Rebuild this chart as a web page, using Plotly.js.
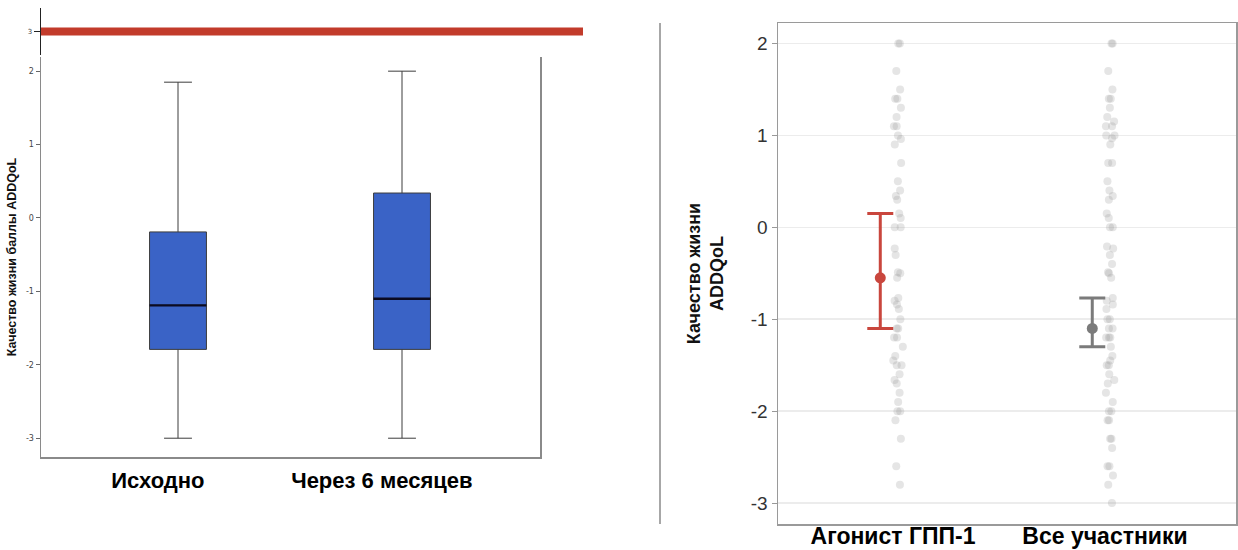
<!DOCTYPE html>
<html><head><meta charset="utf-8">
<script src="https://cdn.plot.ly/plotly-3.0.1.min.js"></script>
<style>html,body{margin:0;padding:0;background:#fff}#chart{width:1238px;height:550px}</style>
</head><body><div id="chart"></div>
<script>
// ---------- Left panel: ADDQoL box plot ----------
const boxCategories = ['Исходно', 'Через 6 месяцев'];
const boxPos = [0, 1];
const boxLower  = [-3.0, -3.0];
const boxQ1     = [-1.79, -1.79];
const boxMedian = [-1.19, -1.10];
const boxQ3     = [-0.19, 0.34];
const boxUpper  = [1.85, 2.0];
const leftTicks = [-3, -2, -1, 0, 1, 2];
const refLevel = 3;

// ---------- Right panel: mean with CI and individual scores ----------
const groupLabels = ['Агонист ГПП-1', 'Все участники'];
const groupPos = [1, 2];
const groupMean  = [-0.55, -1.10];
const groupUpper = [0.15, -0.77];
const groupLower = [-1.10, -1.30];
const dotsGLP1 = [2.0, 2.0, 1.7, 1.5, 1.4, 1.4, 1.3, 1.2, 1.1, 1.1, 1.0, 0.96, 0.9, 0.7, 0.5, 0.4, 0.34, 0.3,
  0.15, 0.1, 0.0, 0.0, -0.23, -0.3, -0.49, -0.5, -0.55, -0.77, -0.8, -0.84, -0.89, -1.0, -1.1, -1.1,
  -1.2, -1.2, -1.3, -1.4, -1.45, -1.5, -1.5, -1.6, -1.66, -1.7, -1.8, -1.9, -2.0, -2.0, -2.1, -2.3, -2.6, -2.8];
const dotsAll = [2.0, 2.0, 1.7, 1.5, 1.4, 1.4, 1.3, 1.2, 1.15, 1.1, 1.1, 1.0, 1.0, 0.97, 0.9, 0.7, 0.7, 0.5, 0.4,
  0.34, 0.3, 0.15, 0.1, 0.0, 0.0, -0.21, -0.23, -0.3, -0.4, -0.49, -0.5, -0.55, -0.77, -0.8, -0.84, -0.89,
  -1.0, -1.0, -1.1, -1.1, -1.2, -1.2, -1.2, -1.3, -1.4, -1.45, -1.5, -1.5, -1.6, -1.66, -1.7, -1.8, -1.9,
  -2.0, -2.0, -2.1, -2.1, -2.3, -2.3, -2.4, -2.6, -2.6, -2.7, -2.8, -3.0];
const groupDots = [dotsGLP1, dotsAll];
const rightTicks = [-3, -2, -1, 0, 1, 2];
const groupColors = ['#C9463D', '#7B7B7B'];

// style constants
const dotOffset = 0.025, errOffset = -0.06, leftLabelOffset = -0.09;
const boxW = 0.254;
const tickText = v => String(v); // plain hyphen minus, as in the source

const traces = [];
traces.push({
  type: 'box', x: boxPos, q1: boxQ1, median: boxMedian, q3: boxQ3,
  lowerfence: boxLower, upperfence: boxUpper,
  fillcolor: '#3A63C6', line: {color: '#3c3c3c', width: 1},
  width: boxW, whiskerwidth: 0.49, boxpoints: false,
  xaxis: 'x', yaxis: 'y', hoverinfo: 'skip', showlegend: false
});
traces.push({
  type: 'box', x: boxPos, q1: boxMedian, median: boxMedian, q3: boxMedian,
  lowerfence: boxMedian, upperfence: boxMedian,
  fillcolor: 'rgba(0,0,0,0)', line: {color: '#0b0b22', width: 2.4},
  width: boxW, whiskerwidth: 0, boxpoints: false,
  xaxis: 'x', yaxis: 'y', hoverinfo: 'skip', showlegend: false
});
traces.push({type: 'scatter', x: [], y: [], xaxis: 'x3', yaxis: 'y3', showlegend: false});

groupDots.forEach((vals, i) => {
  traces.push({
    type: 'box', y: vals, x0: groupPos[i] + dotOffset, width: 0.05,
    boxpoints: 'all', jitter: 1, pointpos: 0,
    marker: {color: 'rgba(150,150,150,0.25)', size: 8},
    line: {width: 0, color: 'rgba(0,0,0,0)'}, fillcolor: 'rgba(0,0,0,0)',
    xaxis: 'x2', yaxis: 'y2', hoverinfo: 'y', showlegend: false
  });
});
groupPos.forEach((p, i) => {
  traces.push({
    type: 'scatter', mode: 'markers', x: [p + errOffset], y: [groupMean[i]],
    marker: {color: groupColors[i], size: 11},
    error_y: {type: 'data', symmetric: false, array: [groupUpper[i] - groupMean[i]],
      arrayminus: [groupMean[i] - groupLower[i]], color: groupColors[i], thickness: 3, width: 13},
    xaxis: 'x2', yaxis: 'y2', showlegend: false
  });
});

const W = 1238, H = 550;
const fx = px => px / W, fy = py => 1 - py / H;
const boldFont = 'Liberation Sans, Arial, sans-serif';

const layout = {
  width: W, height: H, autosize: false,
  margin: {l: 0, r: 0, t: 0, b: 0},
  paper_bgcolor: '#fff', plot_bgcolor: 'rgba(0,0,0,0)',
  showlegend: false, boxmode: 'overlay',
  xaxis: {
    domain: [fx(41), fx(540)], anchor: 'y',
    range: [-0.6116, 1.616], showline: true, linecolor: '#8a8a8a', linewidth: 1.5,
    tickvals: boxPos.map(p => p + leftLabelOffset), ticktext: boxCategories,
    ticks: '', showgrid: false, zeroline: false, ticklabelstandoff: 3,
    tickfont: {family: boldFont, size: 22, color: '#000', weight: 'bold'}
  },
  yaxis: {
    domain: [fy(457), fy(57)], anchor: 'x', range: [-3.256, 2.193],
    tickvals: leftTicks, ticktext: leftTicks.map(tickText),
    ticks: 'outside', ticklen: 4, tickcolor: '#666',
    tickfont: {family: 'DejaVu Sans, sans-serif', size: 8, color: '#444'},
    showline: true, mirror: true, linecolor: '#8a8a8a', linewidth: 1.5,
    showgrid: false, zeroline: false,
    title: {text: 'Качество жизни баллы ADDQoL', standoff: 6,
      font: {family: boldFont, size: 12.5, color: '#111', weight: 'bold'}}
  },
  xaxis3: {
    domain: [fx(41), fx(583)], anchor: 'y3', range: [0, 1],
    showline: false, showticklabels: false, ticks: '', showgrid: false, zeroline: false
  },
  yaxis3: {
    domain: [fy(55), fy(8)], anchor: 'x3', range: [2.5, 3.5],
    tickvals: [refLevel], ticks: 'outside', ticklen: 6, tickcolor: '#222',
    tickfont: {family: 'DejaVu Sans, sans-serif', size: 7, color: '#444'},
    showline: true, linecolor: '#222', linewidth: 1.5, showgrid: false, zeroline: false
  },
  xaxis2: {
    domain: [fx(778), fx(1236)], anchor: 'y2', range: [0.4575, 2.618],
    tickvals: groupPos, ticktext: groupLabels, ticks: '',
    showline: true, mirror: true, linecolor: '#9a9a9a', linewidth: 1.5,
    showgrid: false, zeroline: false, ticklabelstandoff: -9,
    tickfont: {family: boldFont, size: 23, color: '#000', weight: 'bold'}
  },
  yaxis2: {
    domain: [fy(524), fy(23)], anchor: 'x2', range: [-3.228, 2.223],
    tickvals: rightTicks, ticktext: rightTicks.map(tickText),
    ticks: 'outside', ticklen: 5, tickcolor: '#999',
    tickfont: {family: 'Liberation Sans, Arial, sans-serif', size: 19, color: '#333'},
    showgrid: true, gridcolor: '#ececec', gridwidth: 1.5,
    showline: true, mirror: true, linecolor: '#9a9a9a', linewidth: 1.5, zeroline: false,
    title: {text: 'Качество жизни<br>ADDQoL', standoff: 22,
      font: {family: boldFont, size: 18, color: '#111', weight: 'bold'}}
  },
  shapes: [
    {type: 'line', xref: 'x3 domain', x0: 0, x1: 1, yref: 'y3', y0: refLevel, y1: refLevel,
      line: {color: '#C23B2B', width: 8}},
    {type: 'line', xref: 'paper', x0: fx(660), x1: fx(660), yref: 'paper', y0: fy(524), y1: fy(23),
      line: {color: '#8a8a8a', width: 1.5}}
  ]
};

Plotly.newPlot('chart', traces, layout, {displayModeBar: false, staticPlot: true});
</script></body></html>
